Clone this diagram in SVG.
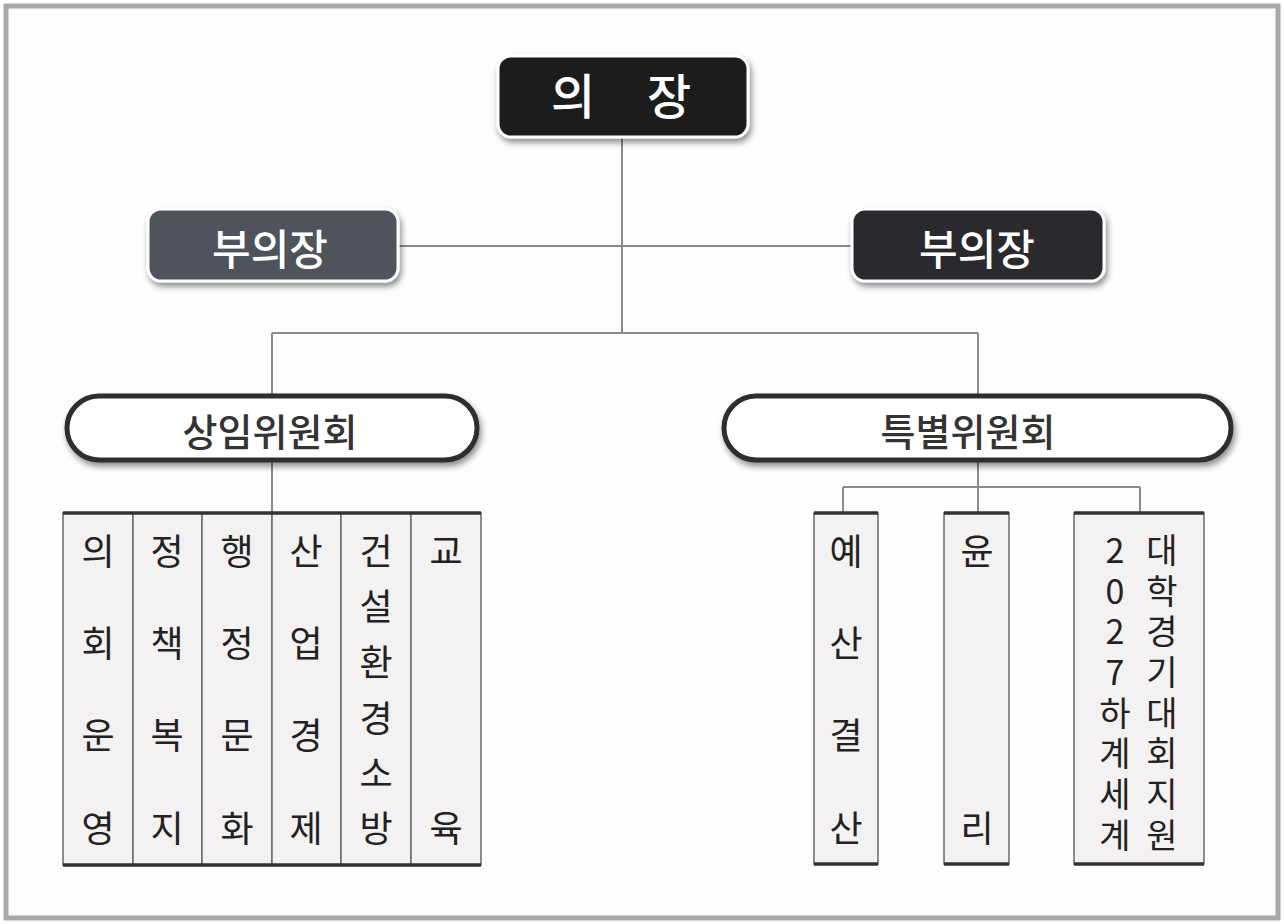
<svg xmlns="http://www.w3.org/2000/svg" width="1284" height="924" viewBox="0 0 1284 924">
<defs>
<filter id="sh" x="-10%" y="-20%" width="125%" height="150%">
<feGaussianBlur in="SourceAlpha" stdDeviation="3"/>
<feOffset dx="2" dy="4" result="b"/>
<feComponentTransfer><feFuncA type="linear" slope="0.45"/></feComponentTransfer>
<feMerge><feMergeNode/><feMergeNode in="SourceGraphic"/></feMerge>
</filter>
<style>
.t{font-family:"Noto Sans CJK KR","Noto Sans",sans-serif;text-anchor:middle;dominant-baseline:central}
.w{fill:#fff;font-weight:500}
.v{fill:#222;font-size:36px}
.p{fill:#333;font-size:38px;font-weight:500}
.vt{font-family:"Noto Sans CJK KR","Noto Sans",sans-serif;fill:#222;font-size:34px;writing-mode:vertical-rl;text-orientation:upright;letter-spacing:6.7px;text-anchor:start}
.ln{stroke:#8a8a8a;stroke-width:2;fill:none}
.box{stroke:#fff;stroke-width:3}
.pill{fill:#fff;stroke:#2e2e2e;stroke-width:5}
.col{fill:#f3f1f1;stroke:#6a6a6a;stroke-width:1.5}
.edge{stroke:#333;stroke-width:3.5}
</style>
</defs>
<rect x="0" y="0" width="1284" height="924" fill="#fff"/>
<rect x="6" y="6" width="1272" height="912" fill="#fdfdfd" stroke="#a8a8a8" stroke-width="5"/>

<g id="connectors">
<line class="ln" x1="622" y1="137" x2="622" y2="333"/>
<line class="ln" x1="398" y1="246" x2="852" y2="246"/>
<line class="ln" x1="272" y1="333" x2="978" y2="333"/>
<line class="ln" x1="272" y1="333" x2="272" y2="395"/>
<line class="ln" x1="978" y1="333" x2="978" y2="395"/>
<line class="ln" x1="272" y1="461" x2="272" y2="513"/>
<line class="ln" x1="978" y1="461" x2="978" y2="513"/>
<line class="ln" x1="843" y1="487" x2="1140" y2="487"/>
<line class="ln" x1="843" y1="487" x2="843" y2="513"/>
<line class="ln" x1="1140" y1="487" x2="1140" y2="513"/>
</g>

<g id="chair">
<rect class="box" x="498" y="56" width="250" height="81" rx="13" fill="#1e1e1e" filter="url(#sh)"/>
<text class="t w" x="573" y="93" font-size="48">의</text>
<text class="t w" x="669" y="93" font-size="48">장</text>
</g>

<g id="vice-left">
<rect class="box" x="148" y="209" width="250" height="72" rx="13" fill="#50535b" filter="url(#sh)"/>
<text class="t w" x="270" y="246" font-size="42">부의장</text>
</g>

<g id="vice-right">
<rect class="box" x="852" y="209" width="252" height="72" rx="13" fill="#2c2c2e" filter="url(#sh)"/>
<text class="t w" x="977" y="246" font-size="42">부의장</text>
</g>

<g id="standing">
<rect class="pill" x="67" y="396" width="410" height="64" rx="32" filter="url(#sh)"/>
<text class="t p" x="270" y="429">상임위원회</text>
</g>

<g id="special">
<rect class="pill" x="724" y="396" width="507" height="64" rx="32" filter="url(#sh)"/>
<text class="t p" x="968" y="429">특별위원회</text>
</g>

<g id="standing-list">
<rect class="col" x="63" y="513" width="70" height="352"/>
<rect class="col" x="133" y="513" width="69" height="352"/>
<rect class="col" x="202" y="513" width="70" height="352"/>
<rect class="col" x="272" y="513" width="69" height="352"/>
<rect class="col" x="341" y="513" width="70" height="352"/>
<rect class="col" x="411" y="513" width="70" height="352"/>
<line class="edge" x1="63" y1="513" x2="481" y2="513"/>
<line class="edge" x1="63" y1="865" x2="481" y2="865"/>
<g class="t v">
<text x="98" y="549">의</text><text x="98" y="641">회</text><text x="98" y="733">운</text><text x="98" y="826">영</text>
<text x="167" y="549">정</text><text x="167" y="641">책</text><text x="167" y="733">복</text><text x="167" y="826">지</text>
<text x="237" y="549">행</text><text x="237" y="641">정</text><text x="237" y="733">문</text><text x="237" y="826">화</text>
<text x="306" y="549">산</text><text x="306" y="641">업</text><text x="306" y="733">경</text><text x="306" y="826">제</text>
<text x="376" y="549">건</text><text x="376" y="604">설</text><text x="376" y="660">환</text><text x="376" y="716">경</text><text x="376" y="771">소</text><text x="376" y="826">방</text>
<text x="446" y="549">교</text><text x="446" y="826">육</text>
</g>
</g>

<g id="budget">
<rect class="col" x="814" y="513" width="64" height="351"/>
<line class="edge" x1="814" y1="513" x2="878" y2="513"/>
<line class="edge" x1="814" y1="864" x2="878" y2="864"/>
<g class="t v">
<text x="846" y="549">예</text><text x="846" y="641">산</text><text x="846" y="733">결</text><text x="846" y="826">산</text>
</g>
</g>

<g id="ethics">
<rect class="col" x="944" y="513" width="65" height="351"/>
<line class="edge" x1="944" y1="513" x2="1009" y2="513"/>
<line class="edge" x1="944" y1="864" x2="1009" y2="864"/>
<g class="t v">
<text x="977" y="549">윤</text><text x="977" y="826">리</text>
</g>
</g>

<g id="games">
<rect class="col" x="1074" y="513" width="130" height="351"/>
<line class="edge" x1="1074" y1="513" x2="1204" y2="513"/>
<line class="edge" x1="1074" y1="864" x2="1204" y2="864"/>
<text class="vt" x="1115" y="533">2027하계세계</text>
<text class="vt" x="1162" y="533">대학경기대회지원</text>
</g>
</svg>
